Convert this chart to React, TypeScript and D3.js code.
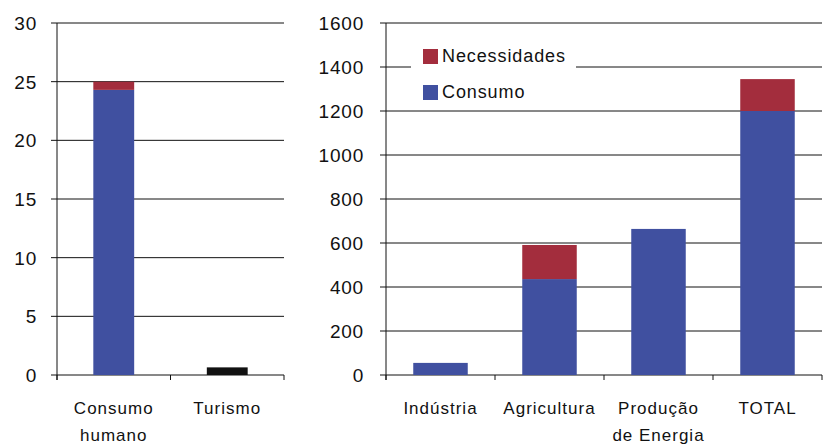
import React from "react"
import * as d3 from "d3"

// left panel (small users)
const leftCategories = ["Consumo humano", "Turismo"]
const leftConsumo = [24.3, 0.65]
const leftNecessidades = [0.7, 0]
const leftTicks = [0, 5, 10, 15, 20, 25, 30]

// right panel
const rightCategories = ["Indústria", "Agricultura", "Produção de Energia", "TOTAL"]
const rightLabelLines = [["Indústria"], ["Agricultura"], ["Produção", "de Energia"], ["TOTAL"]]
const rightConsumo = [55, 436, 664, 1200]
const rightNecessidades = [0, 155, 0, 145]
const rightTicks = [0, 200, 400, 600, 800, 1000, 1200, 1400, 1600]

const legendItems = ["Necessidades", "Consumo"]

const BLUE = "#4050a0"
const RED = "#a32d3d"
const font = "'Liberation Sans', Arial, sans-serif"

type PanelProps = {
  cats: string[]
  lines: string[][]
  consumo: number[]
  necess: number[]
  ticks: number[]
  max: number
  x0: number
  x1: number
  labelEnd: number
  pad: number
  barColors?: string[]
}

const top = 23
const bottom = 375

const Panel = (p: PanelProps) => {
  const y = d3.scaleLinear().domain([0, p.max]).range([bottom, top])
  const x = d3
    .scaleBand<string>()
    .domain(p.cats)
    .range([p.x0, p.x1])
    .paddingInner(p.pad)
    .paddingOuter(p.pad / 2)
  const step = x.step()
  return (
    <g>
      {p.ticks.map(t => (
        <g key={t}>
          <line x1={p.x0 - 6} x2={p.x1} y1={y(t)} y2={y(t)} stroke="#111" strokeWidth={1} />
          <text
            x={p.labelEnd}
            y={y(t)}
            dy="0.36em"
            textAnchor="end"
            fontSize={19}
            letterSpacing={0.8}
            fill="#111"
          >
            {t}
          </text>
        </g>
      ))}
      <line x1={p.x0} x2={p.x0} y1={y(p.max)} y2={bottom + 5} stroke="#111" />
      {d3.range(p.cats.length + 1).map(i => (
        <line
          key={i}
          x1={p.x0 + i * step}
          x2={p.x0 + i * step}
          y1={bottom}
          y2={bottom + 5}
          stroke="#111"
        />
      ))}
      {p.cats.map((c, i) => (
        <g key={c}>
          <rect
            x={x(c)}
            width={x.bandwidth()}
            y={y(p.consumo[i])}
            height={y(0) - y(p.consumo[i])}
            fill={p.barColors ? p.barColors[i] : BLUE}
          />
          {p.necess[i] > 0 && (
            <rect
              x={x(c)}
              width={x.bandwidth()}
              y={y(p.consumo[i] + p.necess[i])}
              height={y(p.consumo[i]) - y(p.consumo[i] + p.necess[i])}
              fill={RED}
            />
          )}
          {p.lines[i].map((l, j) => (
            <text
              key={j}
              x={(x(c) as number) + x.bandwidth() / 2}
              y={414 + j * 27}
              textAnchor="middle"
              fontSize={17}
              letterSpacing={1}
              fill="#111"
            >
              {l}
            </text>
          ))}
        </g>
      ))}
    </g>
  )
}

export default function App() {
  return (
    <svg
      width={839}
      height={445}
      style={{ position: "absolute", left: 0, top: 0, background: "white" }}
      fontFamily={font}
    >
      <rect width={839} height={445} fill="white" />
      <Panel
        cats={leftCategories}
        lines={[["Consumo", "humano"], ["Turismo"]]}
        consumo={leftConsumo}
        necess={leftNecessidades}
        ticks={leftTicks}
        max={30}
        x0={57}
        x1={284}
        labelEnd={37}
        pad={0.64}
        barColors={[BLUE, "#111"]}
      />
      <Panel
        cats={rightCategories}
        lines={rightLabelLines}
        consumo={rightConsumo}
        necess={rightNecessidades}
        ticks={rightTicks}
        max={1600}
        x0={386}
        x1={822}
        labelEnd={364}
        pad={0.5}
      />
      <g>
        <rect x={411} y={38} width={165} height={70} fill="white" />
        {legendItems.map((l, i) => (
          <g key={l}>
            <rect x={423} y={49 + i * 36} width={15} height={15} fill={i === 0 ? RED : BLUE} />
            <text x={442} y={62 + i * 36} fontSize={18} letterSpacing={0.9} fill="#111">
              {l}
            </text>
          </g>
        ))}
      </g>
    </svg>
  )
}
